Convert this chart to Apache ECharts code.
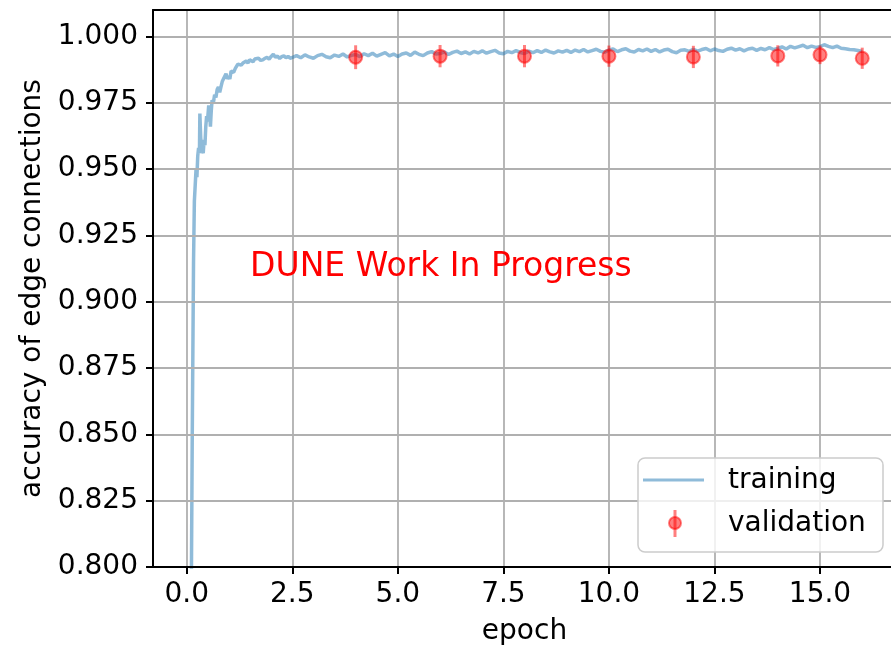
<!DOCTYPE html>
<html>
<head>
<meta charset="utf-8">
<script src="https://cdn.jsdelivr.net/npm/echarts@6/dist/echarts.min.js"></script>
<style>
html,body{margin:0;padding:0;background:#fff;}
#c{width:891px;height:647px;}
</style>
</head>
<body>
<div id="c"></div>
<script>
// ---- data ----
var rampEpoch = [0.00,0.06,0.10,0.13,0.16,0.18,0.20,0.22,0.24,0.26,0.28,0.30,0.31,0.33,0.35,0.37,0.39,0.41,0.43,0.45,0.47,0.49,0.52,0.54,0.56,0.58,0.60,0.63,0.66,0.69,0.72,0.75,0.78,0.81,0.84,0.87,0.90,0.93,0.96,0.99,1.02,1.05,1.08,1.11,1.15,1.18,1.21,1.25,1.29,1.33,1.37,1.41,1.45,1.49,1.53,1.57,1.61,1.65,1.70,1.75,1.80,1.85,1.90,1.95,2.00,2.05,2.10,2.15,2.20,2.25,2.30,2.35,2.40,2.45,2.50];
var rampAcc = [0.500,0.660,0.770,0.850,0.915,0.938,0.944,0.950,0.947,0.955,0.958,0.956,0.971,0.962,0.958,0.957,0.956,0.961,0.959,0.966,0.970,0.968,0.974,0.972,0.966,0.972,0.976,0.975,0.978,0.977,0.980,0.981,0.979,0.981,0.983,0.9827,0.985,0.986,0.984,0.985,0.984,0.987,0.987,0.9865,0.988,0.9875,0.9896,0.989,0.9892,0.990,0.9895,0.9908,0.990,0.9912,0.9912,0.9905,0.9915,0.9913,0.9918,0.9910,0.9912,0.9918,0.9921,0.9915,0.9925,0.9933,0.9922,0.9926,0.9917,0.9924,0.9927,0.9920,0.9925,0.9918,0.9921];
var plateauEpoch = [2.6,2.7,2.8,2.9,3.0,3.1,3.2,3.3,3.4,3.5,3.6,3.7,3.8,3.9,
 4.0,4.1,4.2,4.3,4.4,4.5,4.6,4.7,4.8,4.9,
 5.0,5.1,5.2,5.3,5.4,5.5,5.6,5.7,5.8,5.9,
 6.0,6.1,6.2,6.3,6.4,6.5,6.6,6.7,6.8,6.9,
 7.0,7.1,7.2,7.3,7.4,7.5,7.6,7.7,7.8,7.9,
 8.0,8.1,8.2,8.3,8.4,8.5,8.6,8.7,8.8,8.9,
 9.0,9.1,9.2,9.3,9.4,9.5,9.6,9.7,9.8,9.9,
 10.0,10.1,10.2,10.3,10.4,10.5,10.6,10.7,10.8,10.9,
 11.0,11.1,11.2,11.3,11.4,11.5,11.6,11.7,11.8,11.9,
 12.0,12.1,12.2,12.3,12.4,12.5,12.6,12.7,12.8,12.9,
 13.0,13.1,13.2,13.3,13.4,13.5,13.6,13.7,13.8,13.9,
 14.0,14.1,14.2,14.3,14.4,14.5,14.6,14.7,14.8,14.9,
 15.0,15.1,15.2,15.3,15.4,15.5,15.6,15.7,15.8,15.9,
 16.0];
var plateauAcc = [0.9928,0.9920,0.9931,0.9923,0.9918,0.9928,0.9933,0.9924,0.9920,0.9930,0.9925,0.9934,0.9923,0.9929,
 0.9932,0.9924,0.9935,0.9928,0.9937,0.9926,0.9933,0.9939,0.9927,0.9934,
 0.9925,0.9934,0.9938,0.9929,0.9941,0.9933,0.9928,0.9938,0.9943,0.9934,
 0.9936,0.9942,0.9932,0.9940,0.9945,0.9936,0.9942,0.9934,0.9944,0.9938,
 0.9946,0.9937,0.9943,0.9948,0.9938,0.9935,0.9944,0.9939,0.9947,0.9940,
 0.9936,0.9945,0.9939,0.9947,0.9940,0.9949,0.9942,0.9938,0.9946,0.9941,
 0.9948,0.9940,0.9949,0.9943,0.9951,0.9942,0.9947,0.9952,0.9944,0.9941,
 0.9949,0.9953,0.9943,0.9950,0.9954,0.9945,0.9942,0.9951,0.9946,0.9953,
 0.9944,0.9951,0.9942,0.9949,0.9952,0.9943,0.9939,0.9948,0.9950,0.9944,
 0.9952,0.9945,0.9951,0.9955,0.9946,0.9953,0.9947,0.9944,0.9952,0.9956,
 0.9949,0.9954,0.9946,0.9953,0.9956,0.9948,0.9955,0.9950,0.9958,0.9951,
 0.9955,0.9961,0.9953,0.9963,0.9957,0.9962,0.9967,0.9958,0.9964,0.9959,
 0.9962,0.9969,0.9963,0.9958,0.9964,0.9956,0.9954,0.9951,0.9950,0.9947,
 0.9944];
var valEpoch = [4, 6, 8, 10, 12, 14, 15, 16];
var valAcc   = [0.9922, 0.9926, 0.9926, 0.9926, 0.9923, 0.9927, 0.9931, 0.9918];
var valErr   = [0.0045, 0.0042, 0.0042, 0.0040, 0.0042, 0.0040, 0.0035, 0.0040];
var xTicks = [0, 2.5, 5, 7.5, 10, 12.5, 15];
var yTicks = [0.8, 0.825, 0.85, 0.875, 0.9, 0.925, 0.95, 0.975, 1.0];
var legendNames = ['training', 'validation'];
var annotation = {text: 'DUNE Work In Progress', x: 1.5, y: 0.91};
var xName = 'epoch', yName = 'accuracy of edge connections';

// ---- build ----
var FONT = 'DejaVu Sans';
var trainData = [];
rampEpoch.forEach(function (e, i) { trainData.push([e, rampAcc[i]]); });
plateauEpoch.forEach(function (e, i) { trainData.push([e, plateauAcc[i]]); });
var valData = valEpoch.map(function (e, i) { return [e, valAcc[i], valErr[i]]; });

var X0 = -0.8, X1 = 16.8, Y0 = 0.8, Y1 = 1.01;
var G = {left: 153, top: 10, width: 743, height: 557};
var pxPerUnit = G.width / (X1 - X0);
var G2 = {left: G.left + (0 - X0) * pxPerUnit, top: G.top, width: 17.5 * pxPerUnit, height: G.height};

var RED = 'rgba(255,0,0,0.5)';
var BLUE = 'rgba(31,119,180,0.5)';
var SPINE = {show: true, onZero: false, lineStyle: {color: '#000', width: 2}};

var chart = echarts.init(document.getElementById('c'), null, {renderer: 'canvas'});
chart.setOption({
  animation: false,
  backgroundColor: '#fff',
  textStyle: {fontFamily: FONT},
  grid: [
    {left: G.left, top: G.top, width: G.width, height: G.height, show: false, containLabel: false, outerBoundsMode: 'none'},
    {left: G2.left, top: G2.top, width: G2.width, height: G2.height, show: false, containLabel: false, outerBoundsMode: 'none'}
  ],
  xAxis: [
    {gridIndex: 0, type: 'value', position: 'bottom', min: X0, max: X1, axisLine: SPINE, axisTick: {show: false}, axisLabel: {show: false}, splitLine: {show: false}, z: 8,
     name: xName, nameLocation: 'middle', nameGap: 51, nameTextStyle: {fontFamily: FONT, fontSize: 28, color: '#000'}},
    {gridIndex: 1, type: 'value', min: 0, max: 17.5, interval: 2.5, axisLine: {show: false},
     axisTick: {show: true, length: 7, customValues: xTicks, lineStyle: {color: '#000', width: 2}},
     axisLabel: {show: true, margin: 14, customValues: xTicks, fontFamily: FONT, fontSize: 28, color: '#000', formatter: function (v) { return v.toFixed(1); }},
     splitLine: {show: true, lineStyle: {color: '#b0b0b0', width: 1.8}}},
    {gridIndex: 0, type: 'value', position: 'top', min: X0, max: X1, axisLine: SPINE, axisTick: {show: false}, axisLabel: {show: false}, splitLine: {show: false}, z: 8}
  ],
  yAxis: [
    {gridIndex: 0, type: 'value', position: 'left', min: Y0, max: Y1, interval: 0.025, axisLine: SPINE, z: 8,
     axisTick: {show: true, length: 7, customValues: yTicks, lineStyle: {color: '#000', width: 2}},
     axisLabel: {show: true, margin: 15, customValues: yTicks, fontFamily: FONT, fontSize: 28, color: '#000', formatter: function (v) { return v.toFixed(3); }},
     splitLine: {show: true, lineStyle: {color: '#b0b0b0', width: 1.8}},
     name: yName, nameLocation: 'middle', nameGap: 106, nameTextStyle: {fontFamily: FONT, fontSize: 28, color: '#000'}},
    {gridIndex: 1, type: 'value', min: Y0, max: Y1, show: false}
  ],
  series: [
    {type: 'line', name: legendNames[0], xAxisIndex: 0, yAxisIndex: 0, data: trainData, showSymbol: false, symbol: 'none',
     lineStyle: {color: BLUE, width: 3.5}, clip: true, z: 4},
    {type: 'custom', name: legendNames[1] + ' err', xAxisIndex: 0, yAxisIndex: 0, data: valData, z: 5,
     renderItem: function (params, api) {
       var x = api.value(0), y = api.value(1), e = api.value(2);
       var a = api.coord([x, y + e]), b = api.coord([x, y - e]);
       return {type: 'line', shape: {x1: a[0], y1: a[1], x2: b[0], y2: b[1]}, style: {stroke: RED, lineWidth: 3}};
     }},
    {type: 'scatter', name: legendNames[1], xAxisIndex: 0, yAxisIndex: 0, data: valData.map(function (d) { return [d[0], d[1]]; }),
     symbol: 'circle', symbolSize: 13, itemStyle: {color: RED, borderColor: RED, borderWidth: 2, opacity: 1}, z: 6}
  ]
});

var tp = chart.convertToPixel({gridIndex: 0}, [annotation.x, annotation.y]);
chart.setOption({
  graphic: [
    {type: 'text', x: tp[0], y: tp[1] - 8, z: 10,
     style: {text: annotation.text, fill: '#ff0000', font: '33px "DejaVu Sans"', textAlign: 'left', textVerticalAlign: 'middle', verticalAlign: 'middle'}},
    {type: 'rect', shape: {x: 638, y: 458, width: 245, height: 94, r: 7}, z: 20,
     style: {fill: 'rgba(255,255,255,0.8)', stroke: '#cccccc', lineWidth: 1.5}},
    {type: 'line', shape: {x1: 643, y1: 480, x2: 704, y2: 480}, z: 21, style: {stroke: BLUE, lineWidth: 3}},
    {type: 'line', shape: {x1: 675, y1: 510, x2: 675, y2: 537}, z: 21, style: {stroke: RED, lineWidth: 3}},
    {type: 'circle', shape: {cx: 675, cy: 523, r: 6}, z: 22, style: {fill: RED, stroke: RED, lineWidth: 2}},
    {type: 'text', x: 728, y: 481, z: 23, style: {text: legendNames[0], fill: '#000', font: '28px "DejaVu Sans"', textAlign: 'left', verticalAlign: 'middle', textVerticalAlign: 'middle'}},
    {type: 'text', x: 728, y: 524, z: 23, style: {text: legendNames[1], fill: '#000', font: '28px "DejaVu Sans"', textAlign: 'left', verticalAlign: 'middle', textVerticalAlign: 'middle'}}
  ]
});
</script>
</body>
</html>
